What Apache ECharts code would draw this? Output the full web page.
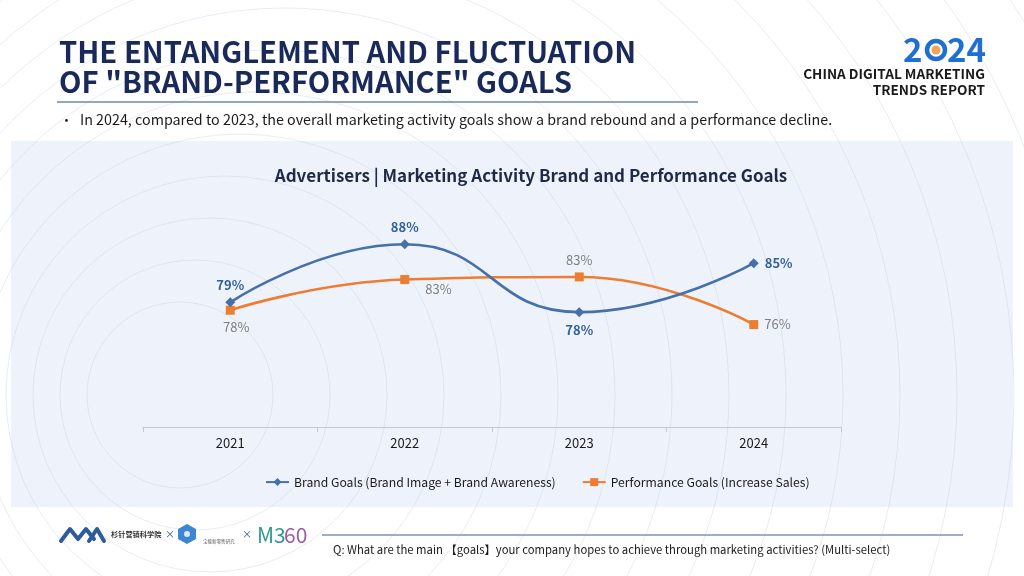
<!DOCTYPE html>
<html><head><meta charset="utf-8">
<script src="https://cdn.jsdelivr.net/npm/echarts@6/dist/echarts.min.js"></script>
<style>html,body{margin:0;padding:0;background:#fff}#c{width:1024px;height:576px}</style>
</head><body><div id="c"></div>
<script>
// ---- data ----
const categories = ['2021', '2022', '2023', '2024'];
const brandGoals = [79.1, 88.0, 77.6, 85.1];
const performanceGoals = [77.9, 82.6, 83.0, 75.7];
const seriesNames = ['Brand Goals (Brand Image + Brand Awareness)', 'Performance Goals (Increase Sales)'];
const chartTitle = 'Advertisers | Marketing Activity Brand and Performance Goals';
const pageTitle = ['THE ENTANGLEMENT AND FLUCTUATION', 'OF "BRAND-PERFORMANCE" GOALS'];
const bulletText = 'In 2024, compared to 2023, the overall marketing activity goals show a brand rebound and a performance decline.';
const questionText = 'Q: What are the main \u3010goals\u3011your company hopes to achieve through marketing activities? (Multi-select)';

// ---- styling ----
const FONT = "'Noto Sans CJK SC', 'Noto Sans', sans-serif";
const BLUE = '#4670a8', BLUE_LABEL = '#33619a', ORANGE = '#ed7d31';
const brandLabelCfg = [
  { position: 'top' }, { position: 'top' }, { position: 'bottom' }, { position: 'right' }
];
const perfLabelCfg = [
  { position: 'bottom', offset: [6, 0] }, { position: 'right', distance: 16, offset: [0, 10] },
  { position: 'top' }, { position: 'right' }
];

const chart = echarts.init(document.getElementById('c'), null, { renderer: 'canvas' });

// decorative ripple rings
const rings = [];
for (let i = 0; i < 17; i++) {
  rings.push({
    type: 'circle', silent: true, z: -9,
    shape: { cx: 180 + 15 * i, cy: 395, r: 93 + 42 * i },
    style: { fill: 'none', stroke: 'rgba(175,198,222,0.32)', lineWidth: 1 }
  });
}

function txt(x, y, text, size, opts) {
  opts = opts || {};
  return {
    type: 'text', silent: true, x: x, y: y, z: 5,
    style: {
      text: text, fill: opts.color || '#1a1a1a',
      font: (opts.weight || 'normal') + ' ' + size + 'px ' + FONT,
      textAlign: opts.align || 'left', textVerticalAlign: 'middle'
    }
  };
}

const graphics = [
  { type: 'rect', silent: true, z: -10, shape: { x: 11, y: 141, width: 1002, height: 366 }, style: { fill: '#eef3fb' } }
].concat(rings).concat([
  txt(59, 52, pageTitle[0], 29.2, { weight: 'bold', color: '#18295a' }),
  txt(59, 82, pageTitle[1], 29.2, { weight: 'bold', color: '#18295a' }),
  { type: 'line', silent: true, z: 5, shape: { x1: 57, y1: 102, x2: 698, y2: 102 }, style: { stroke: '#6f87ad', lineWidth: 1.3 } },
  txt(60, 120, '\u2022', 13),
  txt(80, 120, bulletText, 14.3),
  // 2024 logo
  txt(903, 49, '2', 33, { weight: 'bold', color: '#1f6fd1' }),
  { type: 'circle', silent: true, z: 5, shape: { cx: 936, cy: 50, r: 9 }, style: { fill: 'none', stroke: '#1f6fd1', lineWidth: 4.5 } },
  { type: 'circle', silent: true, z: 5, shape: { cx: 936, cy: 50, r: 4.5 }, style: { fill: '#f2a55a' } },
  txt(947, 49, '24', 33, { weight: 'bold', color: '#1f6fd1' }),
  txt(985, 74, 'CHINA DIGITAL MARKETING', 13.6, { weight: 'bold', align: 'right' }),
  txt(985, 90, 'TRENDS REPORT', 13.6, { weight: 'bold', align: 'right' }),
  // chart title
  txt(531, 176, chartTitle, 17, { weight: 'bold', color: '#1f2a44', align: 'center' }),
  // footer
  { type: 'line', silent: true, z: 5, shape: { x1: 322, y1: 535, x2: 963, y2: 535 }, style: { stroke: '#7f93b0', lineWidth: 1.3 } },
  txt(333, 550, questionText, 11.3),
  // logos
  { type: 'polyline', silent: true, z: 5, shape: { points: [[61, 541], [70, 529], [78, 539], [86, 529], [94, 539]] },
    style: { fill: 'none', stroke: '#2e5b9a', lineWidth: 4, lineJoin: 'round', lineCap: 'round' } },
  { type: 'polyline', silent: true, z: 5, shape: { points: [[89, 541], [97, 529], [104, 541]] },
    style: { fill: 'none', stroke: '#2e5b9a', lineWidth: 4, lineJoin: 'round', lineCap: 'round' } },
  txt(111, 534, '\u6749\u9488\u8425\u9500\u79d1\u5b66\u9662', 7.2, { weight: 'bold', color: '#333' }),
  txt(170, 534, '\u00d7', 10, { color: '#2e5b9a', align: 'center' }),
  { type: 'polygon', silent: true, z: 5, shape: { points: [[187, 524], [196, 529], [196, 539], [187, 544], [178, 539], [178, 529]] }, style: { fill: '#3d86d4' } },
  { type: 'circle', silent: true, z: 6, shape: { cx: 187, cy: 534, r: 3 }, style: { fill: '#dbeafa' } },
  txt(203, 541, '\u5b9d\u80fd\u65b0\u96f6\u552e\u7814\u7a76', 4.5, { color: '#555' }),
  txt(247, 534, '\u00d7', 10, { color: '#2e5b9a', align: 'center' }),
  txt(257, 535, 'M3', 21, { color: '#2f9a93' }),
  txt(284, 535, '60', 21, { color: '#9b5ca6' })
]);

function mkData(vals, cfgs) {
  return vals.map((v, i) => ({ value: v, label: cfgs[i] }));
}

chart.setOption({
  animation: false,
  textStyle: { fontFamily: FONT },
  graphic: graphics,
  grid: { left: 143, right: 183, top: 166, bottom: 149, containLabel: false },
  legend: {
    left: 260, top: 471, itemWidth: 23, itemHeight: 10, itemGap: 26,
    textStyle: { fontSize: 12.2, color: '#1a1a1a', fontFamily: FONT },
    data: seriesNames
  },
  xAxis: {
    type: 'category', data: categories, boundaryGap: true,
    axisLine: { lineStyle: { color: '#c4c9d0', width: 1 } },
    axisTick: { show: true, length: 5, lineStyle: { color: '#c4c9d0' } },
    axisLabel: { color: '#1a1a1a', fontSize: 13, margin: 10, fontFamily: FONT },
    splitLine: { show: false }
  },
  yAxis: { type: 'value', min: 60, max: 100, show: false, splitLine: { show: false } },
  series: [
    {
      name: seriesNames[0], type: 'line', smooth: 0.5,
      data: mkData(brandGoals, brandLabelCfg),
      symbol: 'diamond', symbolSize: 10,
      itemStyle: { color: BLUE },
      lineStyle: { color: BLUE, width: 2.6 },
      label: { show: true, distance: 6, color: BLUE_LABEL, fontWeight: 'bold', fontSize: 13, fontFamily: FONT,
        formatter: p => Math.round(p.value) + '%' },
      z: 3
    },
    {
      name: seriesNames[1], type: 'line', smooth: 0.5,
      data: mkData(performanceGoals, perfLabelCfg),
      symbol: 'rect', symbolSize: 9,
      itemStyle: { color: ORANGE },
      lineStyle: { color: ORANGE, width: 2.6 },
      label: { show: true, distance: 6, color: '#7f7f7f', fontSize: 13, fontFamily: FONT,
        formatter: p => Math.round(p.value) + '%' },
      z: 2
    }
  ]
});
</script></body></html>
